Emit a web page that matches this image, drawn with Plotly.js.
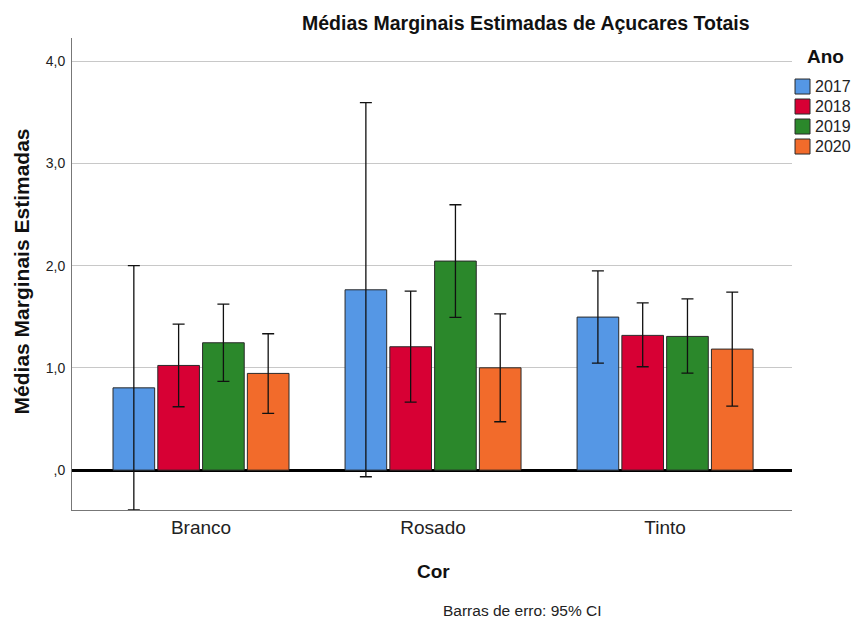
<!DOCTYPE html>
<html>
<head>
<meta charset="utf-8">
<script src="https://cdn.plot.ly/plotly-3.0.1.min.js"></script>
<style>
  html, body { margin: 0; padding: 0; background: #fff; }
  #chart { width: 852px; height: 618px; }
</style>
</head>
<body>
<div id="chart"></div>
<script>
// Estimated marginal means of total sugars by wine colour and year
const categories = ["Branco", "Rosado", "Tinto"];
const years = ["2017", "2018", "2019", "2020"];

const mean2017 = [0.805, 1.764, 1.497];
const mean2018 = [1.024, 1.207, 1.318];
const mean2019 = [1.246, 2.045, 1.308];
const mean2020 = [0.946, 1.001, 1.184];

// 95% confidence interval bounds
const upper2017 = [2.000, 3.594, 1.950];
const lower2017 = [-0.390, -0.065, 1.047];
const upper2018 = [1.428, 1.751, 1.637];
const lower2018 = [0.620, 0.665, 1.011];
const upper2019 = [1.624, 2.596, 1.676];
const lower2019 = [0.868, 1.494, 0.949];
const upper2020 = [1.334, 1.529, 1.742];
const lower2020 = [0.555, 0.473, 0.626];

const yTickVals = [0, 1, 2, 3, 4];
const yTickText = [",0", "1,0", "2,0", "3,0", "4,0"];

const colors = ["#5597E5", "#D70034", "#2B882B", "#F26B2B"];

const means = [mean2017, mean2018, mean2019, mean2020];
const uppers = [upper2017, upper2018, upper2019, upper2020];
const lowers = [lower2017, lower2018, lower2019, lower2020];

const font = "Liberation Sans, Arial, sans-serif";
const xpos = categories.map((c, i) => i);

const traces = years.map((yr, k) => ({
  type: "bar",
  name: yr,
  x: xpos,
  y: means[k],
  marker: { color: colors[k], line: { color: "#2a2a2a", width: 1 } },
  error_y: {
    type: "data",
    symmetric: false,
    array: uppers[k].map((u, i) => u - means[k][i]),
    arrayminus: lowers[k].map((l, i) => means[k][i] - l),
    color: "#111",
    thickness: 1.3,
    width: 6
  },
  hoverinfo: "y"
}));

// Legend block ("Ano") drawn to the right of the plot area
const legendShapes = [];
const legendLabels = [];
const rowTop = 0.9131;   // top edge of first swatch (paper units)
const rowStep = 0.04237; // spacing between rows
const swH = 0.0318;      // swatch height
years.forEach((yr, k) => {
  const y1 = rowTop - k * rowStep;
  legendShapes.push({
    type: "rect", xref: "paper", yref: "paper",
    x0: 1.0042, x1: 1.025, y0: y1 - swH, y1: y1,
    fillcolor: colors[k], line: { color: "#2a2a2a", width: 1 }
  });
  legendLabels.push({
    text: yr, xref: "paper", yref: "paper",
    x: 1.0285, y: y1 - swH / 2, xanchor: "left", yanchor: "middle",
    showarrow: false, font: { size: 16, family: font, color: "#222" }
  });
});

const layout = {
  width: 852,
  height: 618,
  margin: { l: 72, r: 60, t: 38, b: 108, autoexpand: false },
  paper_bgcolor: "#fff",
  plot_bgcolor: "#fff",
  font: { family: font, color: "#222" },
  barmode: "group",
  bargap: 0.228,
  bargroupgap: 0.07,
  showlegend: false,
  xaxis: {
    range: [-0.556, 2.547],
    tickmode: "array",
    tickvals: xpos,
    ticktext: categories,
    tickfont: { size: 19, family: font, color: "#222" },
    showgrid: false,
    zeroline: false,
    showline: true,
    linecolor: "#777",
    linewidth: 1,
    ticks: "",
    fixedrange: true
  },
  yaxis: {
    range: [-0.39, 4.227],
    tickmode: "array",
    tickvals: yTickVals,
    ticktext: yTickText,
    tickfont: { size: 14, family: font, color: "#222" },
    showgrid: true,
    gridcolor: "#c8c8c8",
    gridwidth: 1,
    zeroline: true,
    zerolinecolor: "#000",
    zerolinewidth: 3,
    showline: true,
    linecolor: "#777",
    linewidth: 1,
    ticks: "",
    ticklabelstandoff: 3,
    fixedrange: true
  },
  shapes: legendShapes,
  annotations: [
    {
      text: "<b>Médias Marginais Estimadas de Açucares Totais</b>",
      xref: "paper", yref: "paper", x: 0.630, y: 1.0318,
      xanchor: "center", yanchor: "middle", showarrow: false,
      font: { size: 19.5, family: font, color: "#111" }
    },
    {
      text: "<b>Médias Marginais Estimadas</b>",
      xref: "paper", yref: "paper", x: -0.0688, y: 0.5064,
      xanchor: "center", yanchor: "middle", textangle: -90, showarrow: false,
      font: { size: 21, family: font, color: "#111" }
    },
    {
      text: "<b>Cor</b>",
      xref: "paper", yref: "paper", x: 0.5017, y: -0.1303,
      xanchor: "center", yanchor: "middle", showarrow: false,
      font: { size: 19, family: font, color: "#111" }
    },
    {
      text: "Barras de erro: 95% CI",
      xref: "paper", yref: "paper", x: 0.625, y: -0.2119,
      xanchor: "center", yanchor: "middle", showarrow: false,
      font: { size: 15.5, family: font, color: "#222" }
    },
    {
      text: "<b>Ano</b>",
      xref: "paper", yref: "paper", x: 1.0465, y: 0.9608,
      xanchor: "center", yanchor: "middle", showarrow: false,
      font: { size: 19, family: font, color: "#111" }
    }
  ].concat(legendLabels)
};

Plotly.newPlot("chart", traces, layout, { displayModeBar: false, staticPlot: true });
</script>
</body>
</html>
